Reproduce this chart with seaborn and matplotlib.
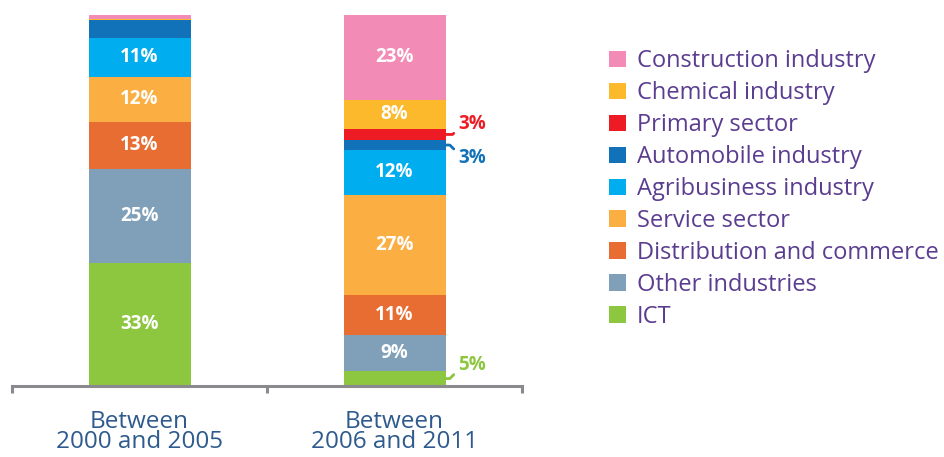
import numpy as np
import pandas as pd
import matplotlib
matplotlib.use('Agg')
import matplotlib.pyplot as plt
from matplotlib.patches import Patch
import seaborn as sns

# data (bottom -> top of each bar)
categories = ['ICT', 'Other industries', 'Distribution and commerce', 'Service sector',
              'Agribusiness industry', 'Automobile industry', 'Primary sector',
              'Chemical industry', 'Construction industry']
periods = ['Between\n2000 and 2005', 'Between\n2006 and 2011']
share_2000_2005 = [33.2, 25.3, 12.7, 12.1, 10.5, 4.9, 0.0, 0.3, 1.0]
share_2006_2011 = [4.0, 9.7, 10.8, 27.0, 12.1, 2.7, 3.0, 7.8, 22.9]
labels_2000_2005 = ['33%', '25%', '13%', '12%', '11%', '', '', '', '']
labels_2006_2011 = ['5%', '9%', '11%', '27%', '12%', '3%', '3%', '8%', '23%']
colors = ['#8dc63f', '#7fa0b8', '#e86d33', '#fbae42', '#00aeef',
          '#1172b9', '#ed1c24', '#fdb92c', '#f28cb6']

sns.set_style('white')
plt.rcParams['font.family'] = ['Open Sans', 'DejaVu Sans']

df = pd.DataFrame({'category': categories,
                   periods[0]: share_2000_2005,
                   periods[1]: share_2006_2011})

fig = plt.figure(figsize=(9.44, 4.57), dpi=100)
ax = fig.add_axes([12 / 944, 1 - 386 / 457, 510 / 944, 371 / 457])

# stacked bars: draw cumulative heights, tallest first
cum = df[periods].cumsum()
for i in range(len(categories) - 1, -1, -1):
    sns.barplot(x=periods, y=cum.iloc[i].values, color=colors[i], width=0.4,
                saturation=1, linewidth=0, ax=ax)

# labels inside the segments
bottoms = cum - df[periods]
for j, labels in enumerate([labels_2000_2005, labels_2006_2011]):
    for i, lab in enumerate(labels):
        if lab == '' or df[periods[j]][i] < 6:
            continue
        y = bottoms[periods[j]][i] + df[periods[j]][i] / 2
        ax.text(j, y, lab, ha='center', va='center', color='white',
                fontsize=13.5, fontweight='bold')

# small segments of the second bar: labels outside with connectors
outside = {0: 1, 5: -1, 6: 1}
for i, sign in outside.items():
    y = bottoms[periods[1]][i] + df[periods[1]][i] / 2
    dy = 7.5 if i == 6 else 9.5
    ax.annotate(labels_2006_2011[i], xy=(1.2, y), xytext=(9, dy * sign),
                textcoords='offset points', ha='left', va='center',
                color=colors[i], fontsize=13.5, fontweight='bold',
                arrowprops=dict(arrowstyle='-', color=colors[i], lw=2,
                                shrinkA=1, shrinkB=0, relpos=(0, 0.5 - 0.25 * sign),
                                connectionstyle='angle,angleA=%d,angleB=0,rad=0'
                                % (45 * sign)))

ax.set_xlim(-0.5, 1.5)
ax.set_ylim(0, 100)
ax.set_yticks([])
ax.set_ylabel('')
for s in ['top', 'right', 'left']:
    ax.spines[s].set_visible(False)
ax.spines['bottom'].set_color('#8a8a8e')
ax.spines['bottom'].set_linewidth(2.2)
ax.set_xticks([0, 1])
ax.set_xticklabels(periods, color='#2e5a8e', fontsize=17.5, linespacing=0.82)
ax.set_xticks([-0.5, 0.5, 1.5], minor=True)
ax.tick_params(axis='x', which='major', length=0, pad=17)
ax.tick_params(axis='x', which='minor', length=5, width=2.2, color='#8a8a8e',
               direction='out', bottom=True)

handles = [Patch(facecolor=colors[i], edgecolor='none', label=categories[i])
           for i in range(len(categories) - 1, -1, -1)]
fig.legend(handles=handles, loc='upper left', bbox_to_anchor=(600 / 944, 1 - 40 / 457),
           frameon=False, fontsize=17, labelcolor='#5b3d90',
           handlelength=0.7, handleheight=0.7, handletextpad=0.45,
           labelspacing=0.335, borderaxespad=0)

fig.savefig('out.png', dpi=100)
